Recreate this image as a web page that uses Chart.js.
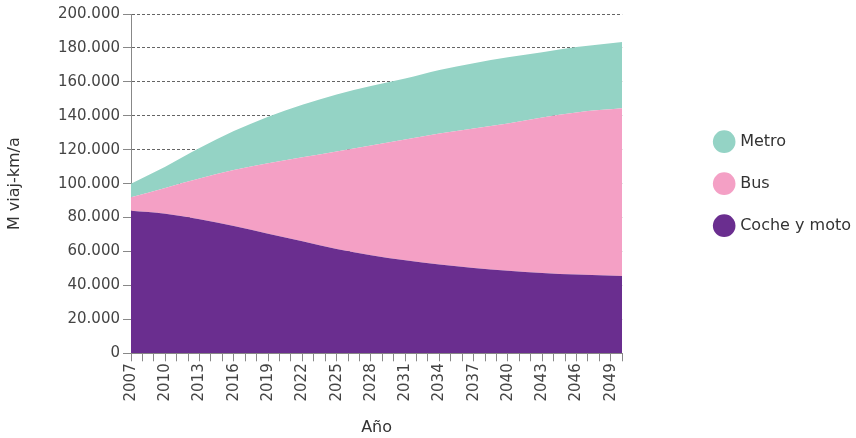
<!DOCTYPE html>
<html>
<head>
<meta charset="utf-8">
<script src="https://cdn.jsdelivr.net/npm/chart.js@4"></script>
<style>
  body { margin: 0; background: #fff; }
  #wrap { width: 856px; height: 438px; position: relative; }
</style>
</head>
<body>
<div id="wrap"><canvas id="myChart"></canvas></div>
<script>
const years = [2007, 2010, 2013, 2016, 2019, 2022, 2025, 2028, 2031, 2034, 2037, 2040, 2043, 2046, 2050];
const coche = [84000, 82300, 79000, 75000, 70500, 66000, 61500, 57800, 54800, 52300, 50300, 48700, 47400, 46400, 45600];
const bus = [8000, 15200, 24000, 33000, 41500, 49500, 57500, 64700, 71200, 77200, 82200, 86800, 91600, 95600, 98800];
const metro = [8000, 12500, 18000, 23000, 27500, 31000, 33500, 35000, 36000, 37500, 38500, 39000, 38500, 38500, 39100];

const seriesNames = ['Coche y moto', 'Bus', 'Metro'];
const colors = ['#6a2e8f', '#f4a0c5', '#94d3c5'];

const font = 'DejaVu Sans';

function points(values) {
    return years.map((y, i) => ({ x: y, y: values[i] }));
}

const data = {
    datasets: [coche, bus, metro].map((values, i) => ({
        label: seriesNames[i],
        data: points(values),
        backgroundColor: colors[i],
        borderColor: colors[i],
        borderWidth: 0,
        pointRadius: 0,
        pointStyle: 'circle',
        cubicInterpolationMode: 'monotone',
        fill: i === 0 ? 'origin' : '-1'
    }))
};

const config = {
    type: 'line',
    data: data,
    options: {
        responsive: true,
        maintainAspectRatio: false,
        animation: false,
        layout: {
            padding: { top: 14, right: -5, bottom: 0, left: 0 }
        },
        scales: {
            x: {
                type: 'linear',
                min: 2007,
                max: 2050,
                z: 1,
                ticks: {
                    stepSize: 1,
                    autoSkip: false,
                    maxRotation: 90,
                    minRotation: 90,
                    padding: 2,
                    color: '#444',
                    font: { family: font, size: 15 },
                    callback: v => ((v - 2007) % 3 === 0 && v < 2050) ? String(v) : ''
                },
                grid: {
                    drawOnChartArea: false,
                    tickLength: 8,
                    tickColor: '#888'
                },
                border: { color: '#888' },
                title: {
                    display: true,
                    text: 'Año',
                    color: '#333',
                    font: { family: font, size: 16 },
                    padding: { top: 0, bottom: 1 }
                },
                afterFit: s => { s.height = 84.7; }
            },
            y: {
                stacked: true,
                min: 0,
                max: 200000,
                z: 1,
                ticks: {
                    stepSize: 20000,
                    padding: 3,
                    color: '#444',
                    font: { family: font, size: 15 },
                    callback: v => v.toLocaleString('de-DE')
                },
                grid: {
                    color: 'rgba(50,50,50,0.75)',
                    tickLength: 8,
                    tickColor: '#888'
                },
                border: { color: '#888', dash: [3, 2] },
                title: {
                    display: true,
                    text: 'M viaj-km/a',
                    color: '#333',
                    font: { family: font, size: 16 },
                    padding: { top: 5, bottom: 0 }
                },
                afterFit: s => { s.width = 131; }
            },
            y2: { // empty axis, keeps the gap between plot and legend
                position: 'right',
                grid: { display: false },
                ticks: { display: false },
                border: { display: false },
                afterFit: s => { s.width = 68; }
            }
        },
        plugins: {
            legend: {
                position: 'right',
                fullSize: false,
                reverse: true,
                maxWidth: 260,
                labels: {
                    usePointStyle: true,
                    pointStyle: 'circle',
                    boxWidth: 16,
                    boxHeight: 16,
                    padding: 26,
                    color: '#333',
                    font: { family: font, size: 16 }
                }
            },
            tooltip: { enabled: false }
        }
    }
};

const myChart = new Chart(
    document.getElementById('myChart'),
    config
);
</script>
</body>
</html>
